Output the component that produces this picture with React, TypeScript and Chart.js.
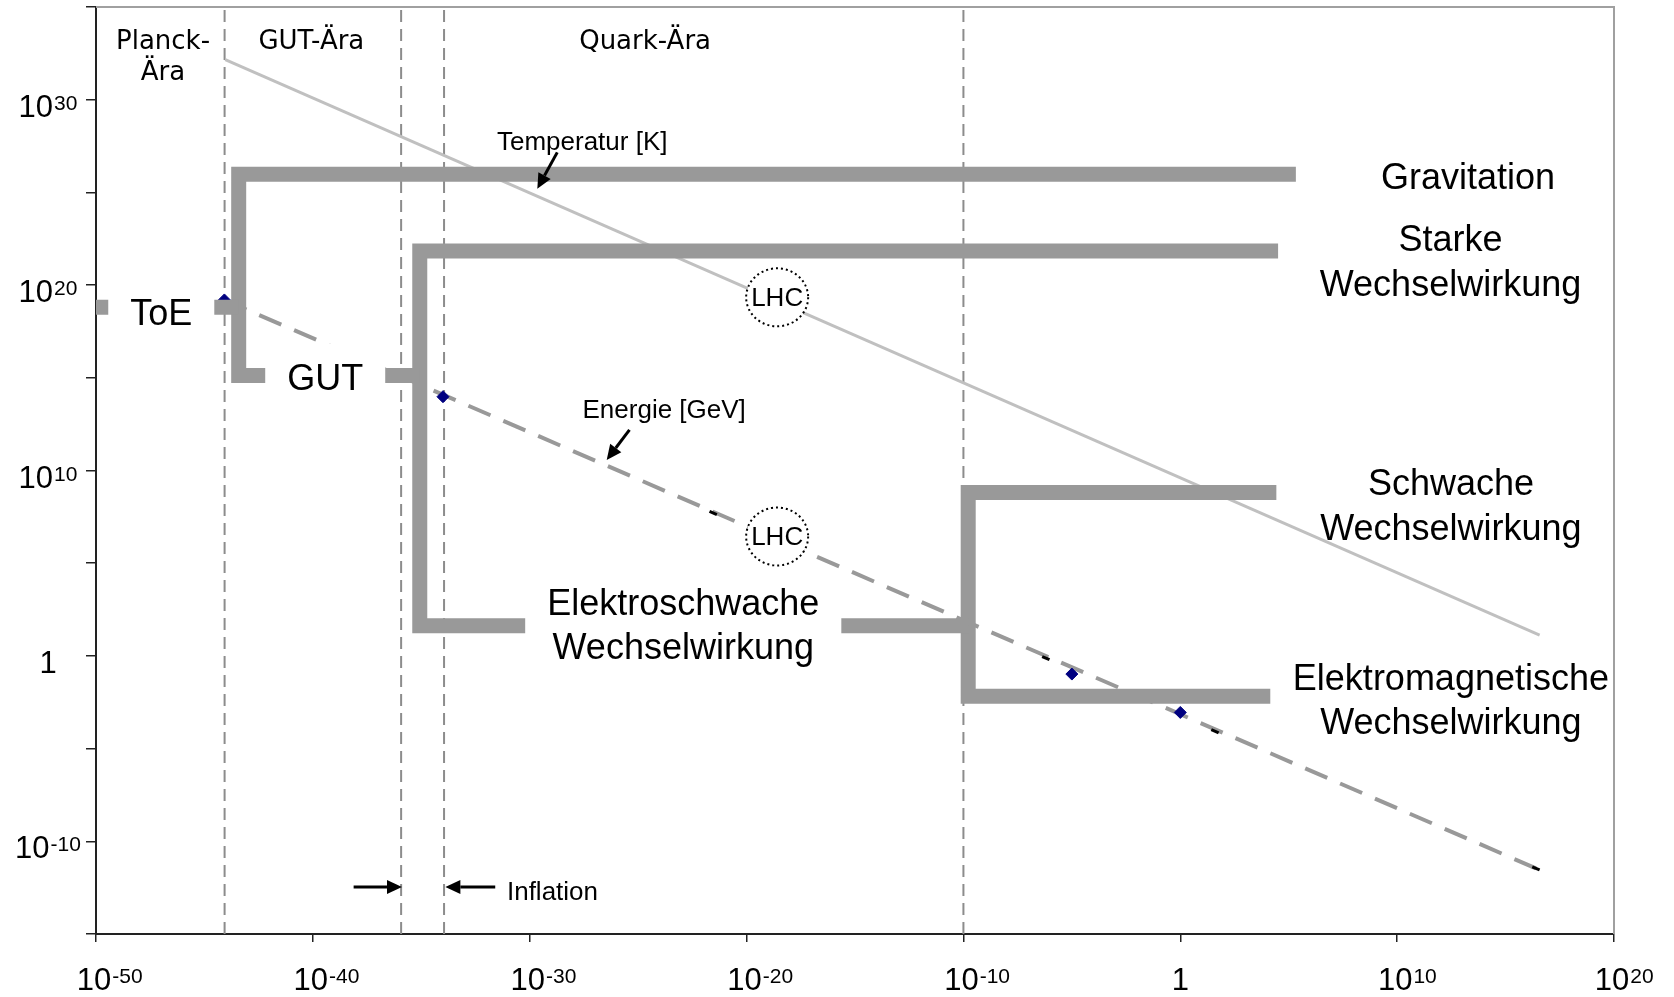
import React, { useEffect, useRef } from 'react';
import { Chart, registerables } from 'chart.js';

Chart.register(...registerables);

// ---- data (all values are log10) ----
const xTickExps = [-50, -40, -30, -20, -10, 0, 10, 20];
const yTickExps = [-15, -10, -5, 0, 5, 10, 15, 20, 25, 30, 35];
const yLabelExps = [-10, 0, 10, 20, 30];

// era boundaries (time in s, log10)
const eraBoundaries = [-44.07, -35.93, -33.95, -10.0];
const eraNames = ['Planck-\nÄra', 'GUT-Ära', 'Quark-Ära'];
const eraLabelX = [-46.91, -40.07, -24.68];

// Temperatur [K]
const temperatureX = [-44.04, 16.57];
const temperatureY = [32.16, 1.12];

// Energie [GeV]
const energyX = [-44.08, 16.4];
const energyY = [19.2, -11.46];
const diamondX = [-44.08, -34.0, -5.0, 0.0];
const diamondY = [19.2, 13.98, -0.98, -3.05];
const blackMarkX = [-21.54, -6.2, 1.6, 16.4];
const blackMarkY = [7.71, -0.12, -4.06, -11.46];

// Wechselwirkungen (branches)
const toeX = [-50, -43.42];
const toeY = [18.8, 18.8];
const gravX = [-35.07, -43.42, -43.42, 5.33];
const gravY = [15.13, 15.13, 25.98, 25.98];
const strongX = [-9.78, -35.07, -35.07, 4.51];
const strongY = [1.63, 1.63, 21.84, 21.84];
const weakX = [4.15, -9.78, -9.78, 4.43];
const weakY = [-2.17, -2.17, 8.81, 8.81];

// LHC marks
const lhcX = [-18.59, -18.59];
const lhcY = [19.34, 6.44];

const P = (e: number) => Math.pow(10, e);
const pts = (xs: number[], ys: number[]) => xs.map((x, i) => ({ x: P(x), y: P(ys[i]) }));

const SANS = '"Liberation Sans", Arial, sans-serif';
const DEJAVU = '"DejaVu Sans", Verdana, sans-serif';

const boxedLabels = [
  { lines: ['ToE'], x: -46.99, y: 17.85, gap: 0 },
  { lines: ['GUT'], x: -39.43, y: 14.35, gap: 0 },
  { lines: ['Elektroschwache', 'Wechselwirkung'], x: -22.92, y: 2.2, gap: 44 },
];
const plainLabels = [
  { lines: ['Gravitation'], x: 13.27, y: 25.2, gap: 0 },
  { lines: ['Starke', 'Wechselwirkung'], x: 12.46, y: 21.85, gap: 45 },
  { lines: ['Schwache', 'Wechselwirkung'], x: 12.48, y: 8.68, gap: 45 },
  { lines: ['Elektromagnetische', 'Wechselwirkung'], x: 12.48, y: -1.85, gap: 44 },
];
const smallLabels = [
  { text: 'Temperatur [K]', x: -27.58, y: 27.27, align: 'center' },
  { text: 'Energie [GeV]', x: -23.8, y: 12.82, align: 'center' },
  { text: 'Inflation', x: -31.05, y: -13.15, align: 'left' },
];
const arrows = [
  { x1: -28.73, y1: 27.16, x2: -29.65, y2: 25.2 },
  { x1: -25.4, y1: 12.19, x2: -26.45, y2: 10.57 },
  { x1: -38.12, y1: -12.47, x2: -35.89, y2: -12.47 },
  { x1: -31.59, y1: -12.47, x2: -33.89, y2: -12.47 },
];

function drawArrow(ctx: CanvasRenderingContext2D, x1: number, y1: number, x2: number, y2: number) {
  const a = Math.atan2(y2 - y1, x2 - x1);
  const hl = 15, hw = 7;
  const bx = x2 - hl * Math.cos(a), by = y2 - hl * Math.sin(a);
  ctx.beginPath();
  ctx.moveTo(x1, y1);
  ctx.lineTo(bx, by);
  ctx.strokeStyle = '#000';
  ctx.lineWidth = 3;
  ctx.stroke();
  ctx.beginPath();
  ctx.moveTo(x2, y2);
  ctx.lineTo(bx + hw * Math.sin(a), by - hw * Math.cos(a));
  ctx.lineTo(bx - hw * Math.sin(a), by + hw * Math.cos(a));
  ctx.closePath();
  ctx.fillStyle = '#000';
  ctx.fill();
}

const annotationPlugin = {
  id: 'annotations',
  afterDatasetsDraw(chart: any) {
    const ctx: CanvasRenderingContext2D = chart.ctx;
    const xs = chart.scales.x, ys = chart.scales.y;
    const px = (e: number) => xs.getPixelForValue(P(e));
    const py = (e: number) => ys.getPixelForValue(P(e));
    ctx.save();
    ctx.textBaseline = 'alphabetic';

    // boxed labels
    ctx.font = `36px ${SANS}`;
    boxedLabels.forEach((l) => {
      const cx = px(l.x), by = py(l.y);
      const w = Math.max(...l.lines.map((t) => ctx.measureText(t).width));
      const top = by - 26 - 20;
      const bottom = by + l.gap * (l.lines.length - 1) + 20;
      ctx.fillStyle = '#fff';
      ctx.fillRect(cx - w / 2 - 22, top, w + 44, bottom - top);
      ctx.fillStyle = '#000';
      ctx.textAlign = 'center';
      l.lines.forEach((t, i) => ctx.fillText(t, cx, by + i * l.gap));
    });
    plainLabels.forEach((l) => {
      const cx = px(l.x), by = py(l.y);
      ctx.fillStyle = '#000';
      ctx.textAlign = 'center';
      l.lines.forEach((t, i) => ctx.fillText(t, cx, by + i * l.gap));
    });

    // small labels
    ctx.font = `26px ${SANS}`;
    smallLabels.forEach((l) => {
      ctx.textAlign = l.align as CanvasTextAlign;
      ctx.fillStyle = '#000';
      ctx.fillText(l.text, px(l.x), py(l.y));
    });
    arrows.forEach((a) => drawArrow(ctx, px(a.x1), py(a.y1), px(a.x2), py(a.y2)));

    // era labels
    ctx.font = `26px ${DEJAVU}`;
    ctx.textAlign = 'center';
    ctx.fillStyle = '#000';
    const eraTop = chart.chartArea.top + 42;
    eraNames.forEach((n, i) => {
      n.split('\n').forEach((t, j) => ctx.fillText(t, px(eraLabelX[i]), eraTop + j * 31));
    });

    // LHC circles
    lhcX.forEach((x, i) => {
      const cx = px(x), cy = py(lhcY[i]);
      ctx.beginPath();
      ctx.ellipse(cx, cy, 31, 29, 0, 0, Math.PI * 2);
      ctx.fillStyle = '#fff';
      ctx.fill();
      ctx.setLineDash([2, 3]);
      ctx.lineWidth = 2;
      ctx.strokeStyle = '#000';
      ctx.stroke();
      ctx.setLineDash([]);
      ctx.font = `26px ${SANS}`;
      ctx.textAlign = 'center';
      ctx.textBaseline = 'middle';
      ctx.fillStyle = '#000';
      ctx.fillText('LHC', cx, cy + 1);
      ctx.textBaseline = 'alphabetic';
    });
    ctx.restore();
  },
  afterDraw(chart: any) {
    const ctx: CanvasRenderingContext2D = chart.ctx;
    const { left, right, top, bottom } = chart.chartArea;
    const xs = chart.scales.x, ys = chart.scales.y;
    ctx.save();
    // top and right frame
    ctx.strokeStyle = '#a0a0a0';
    ctx.lineWidth = 2;
    ctx.beginPath();
    ctx.moveTo(left, top);
    ctx.lineTo(right, top);
    ctx.lineTo(right, bottom);
    ctx.stroke();

    const baseFont = `31px ${SANS}`;
    const supFont = `21px ${SANS}`;
    ctx.fillStyle = '#000';
    ctx.textAlign = 'left';
    ctx.textBaseline = 'alphabetic';
    const drawPow = (e: number, cx: number, base: number, centerWhole: boolean) => {
      ctx.font = baseFont;
      if (e === 0) {
        const w1 = ctx.measureText('1').width;
        ctx.fillText('1', cx - w1 / 2, base);
        return;
      }
      const w10 = ctx.measureText('10').width;
      ctx.font = supFont;
      const sup = String(e);
      const ws = ctx.measureText(sup).width;
      const x0 = centerWhole ? cx - (w10 + 1 + ws) / 2 : cx - w10 / 2 - 2;
      ctx.font = baseFont;
      ctx.fillText('10', x0, base);
      ctx.font = supFont;
      ctx.fillText(sup, x0 + w10 + 1, base - 22 + 15);
    };
    xTickExps.forEach((e) => drawPow(e, xs.getPixelForValue(P(e)), bottom + 56, false));
    yLabelExps.forEach((e) => drawPow(e, 48, ys.getPixelForValue(P(e)) + 17, true));
    ctx.restore();
  },
};

export default function App() {
  const ref = useRef<HTMLCanvasElement | null>(null);
  useEffect(() => {
    if (!ref.current) return;
    const branch = (xs: number[], ys: number[]) => ({
      data: pts(xs, ys),
      borderColor: '#999999',
      borderWidth: 15,
      borderJoinStyle: 'miter',
      borderCapStyle: 'butt',
      pointRadius: 0,
      fill: false,
      tension: 0,
      order: 1,
    });
    const datasets: any[] = [
      ...eraBoundaries.map((b) => ({
        data: [{ x: P(b), y: P(-15) }, { x: P(b), y: P(35) }],
        borderColor: '#8c8c8c',
        borderWidth: 2,
        borderDash: [12, 7],
        pointRadius: 0,
        order: 10,
      })),
      {
        data: pts(temperatureX, temperatureY),
        borderColor: '#c0c0c0',
        borderWidth: 3,
        pointRadius: 0,
        order: 9,
      },
      {
        data: pts(energyX, energyY),
        borderColor: '#999999',
        borderWidth: 4,
        borderDash: [24, 14],
        pointRadius: 0,
        order: 8,
      },
      {
        data: pts(diamondX, diamondY),
        showLine: false,
        pointStyle: 'rectRot',
        pointRadius: 6,
        pointBackgroundColor: '#000080',
        pointBorderColor: '#000080',
        pointBorderWidth: 1,
        order: 7,
      },
      {
        data: pts(blackMarkX, blackMarkY),
        showLine: false,
        pointStyle: 'line',
        pointRadius: 4,
        pointRotation: 23.5,
        pointBorderColor: '#000',
        pointBorderWidth: 3,
        order: 7,
      },
      branch(toeX, toeY),
      branch(gravX, gravY),
      branch(strongX, strongY),
      branch(weakX, weakY),
    ];
    const chart = new Chart(ref.current, {
      type: 'line',
      data: { datasets },
      options: {
        animation: false,
        responsive: false,
        events: [],
        layout: { padding: { top: 6, right: 60, bottom: 0, left: 0 } },
        plugins: { legend: { display: false }, tooltip: { enabled: false } },
        scales: {
          x: {
            type: 'logarithmic',
            min: P(-50),
            max: P(20),
            afterBuildTicks: (s: any) => {
              s.ticks = xTickExps.map((e) => ({ value: P(e) }));
            },
            afterFit: (s: any) => {
              s.height = 63;
            },
            ticks: { display: false },
            grid: { display: true, drawOnChartArea: false, drawTicks: true, tickLength: 8, color: '#222', lineWidth: 1.5 },
            border: { display: true, color: '#222', width: 2 },
          },
          y: {
            type: 'logarithmic',
            min: P(-15),
            max: P(35),
            afterBuildTicks: (s: any) => {
              s.ticks = yTickExps.map((e) => ({ value: P(e) }));
            },
            afterFit: (s: any) => {
              s.width = 96;
            },
            ticks: { display: false },
            grid: { display: true, drawOnChartArea: false, drawTicks: true, tickLength: 10, color: '#222', lineWidth: 1.5 },
            border: { display: true, color: '#222', width: 2 },
          },
        },
      } as any,
      plugins: [annotationPlugin as any],
    });
    return () => chart.destroy();
  }, []);
  return (
    <div style={{ position: 'absolute', left: 0, top: 0, width: 1674, height: 997, background: '#fff' }}>
      <canvas ref={ref} width={1674} height={997} style={{ display: 'block' }} />
    </div>
  );
}
